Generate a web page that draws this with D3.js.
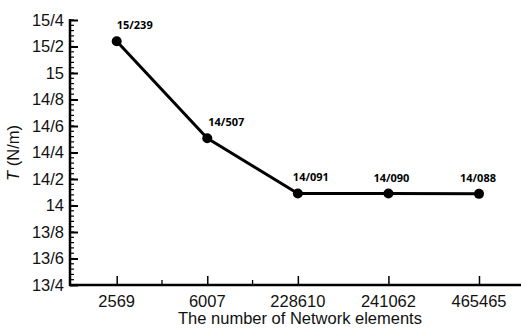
<!DOCTYPE html>
<html><head><meta charset="utf-8">
<script src="https://cdn.jsdelivr.net/npm/d3@7"></script>
<style>body{margin:0;background:#fff}</style>
</head><body>
<svg id="c" width="521" height="333"></svg>
<script>
const categories = ["2569", "6007", "228610", "241062", "465465"];
const values = [15.239, 14.507, 14.091, 14.090, 14.088];
const valueLabels = ["15/239", "14/507", "14/091", "14/090", "14/088"];
const yTicks = [13.4, 13.6, 13.8, 14, 14.2, 14.4, 14.6, 14.8, 15, 15.2, 15.4];
const yTickLabels = ["13/4", "13/6", "13/8", "14", "14/2", "14/4", "14/6", "14/8", "15", "15/2", "15/4"];
const xMinorBetween = [[0, 1], [1, 2]];
const labelDx = [0, 1, -5, -15, -19];

const svg = d3.select("#c");
const axisLeftX = 70, axisBottomY = 285, axisRightX = 521;
const x = d3.scalePoint().domain(categories).range([116.7, 479]);
const y = d3.scaleLinear().domain([13.4, 15.4]).range([285, 20]);

const g = svg.append("g");
// minor y ticks
const minor = d3.range(13.4, 15.4001, 0.04).map(v => +v.toFixed(2));
g.selectAll("line.ymin").data(minor).join("line")
  .attr("x1", axisLeftX).attr("x2", axisLeftX + 4)
  .attr("y1", d => y(d)).attr("y2", d => y(d))
  .attr("stroke", "#000").attr("stroke-width", 1.2);
// major y ticks via axis
const yAxis = d3.axisRight(y).tickValues(yTicks).tickSize(8).tickFormat("");
const ya = g.append("g").attr("transform", `translate(${axisLeftX},0)`).call(yAxis);
ya.select(".domain").remove();
ya.selectAll(".tick line").attr("stroke", "#000").attr("stroke-width", 2);
g.selectAll("text.yl").data(yTicks).join("text")
  .attr("x", axisLeftX - 6).attr("y", d => y(d)).attr("dy", "0.36em")
  .attr("text-anchor", "end").attr("font-family", "Liberation Sans, Arial, sans-serif")
  .attr("font-size", 16.5).attr("fill", "#111").text((d, i) => yTickLabels[i]);

// x axis
const xAxis = d3.axisTop(x).tickSize(9).tickFormat("");
const xa = g.append("g").attr("transform", `translate(0,${axisBottomY})`).call(xAxis);
xa.select(".domain").remove();
xa.selectAll(".tick line").attr("stroke", "#000").attr("stroke-width", 1.5);
g.selectAll("line.xmin").data(xMinorBetween).join("line")
  .attr("x1", d => (x(categories[d[0]]) + x(categories[d[1]])) / 2)
  .attr("x2", d => (x(categories[d[0]]) + x(categories[d[1]])) / 2)
  .attr("y1", axisBottomY).attr("y2", axisBottomY - 5)
  .attr("stroke", "#000").attr("stroke-width", 1.3);
g.selectAll("text.xl").data(categories).join("text")
  .attr("x", d => x(d)).attr("y", 306.5).attr("text-anchor", "middle")
  .attr("font-family", "Liberation Sans, Arial, sans-serif").attr("font-size", 16.5)
  .attr("fill", "#111").text(d => d);

// axis lines
g.append("line").attr("x1", axisLeftX).attr("x2", axisLeftX).attr("y1", 19).attr("y2", axisBottomY + 1)
  .attr("stroke", "#000").attr("stroke-width", 2.5);
g.append("line").attr("x1", axisLeftX - 1).attr("x2", axisRightX).attr("y1", axisBottomY).attr("y2", axisBottomY)
  .attr("stroke", "#000").attr("stroke-width", 2.5);

// titles
g.append("text").attr("x", 300).attr("y", 324).attr("text-anchor", "middle")
  .attr("font-family", "Liberation Sans, Arial, sans-serif").attr("font-size", 16.5).attr("fill", "#111")
  .text("The number of Network elements");
const yt = g.append("text").attr("transform", "translate(19,153) rotate(-90)").attr("text-anchor", "middle")
  .attr("font-family", "Liberation Sans, Arial, sans-serif").attr("font-size", 16.5).attr("fill", "#111");
yt.append("tspan").attr("font-style", "italic").text("T");
yt.append("tspan").text(" (N/m)");

// line + markers
const data = categories.map((c, i) => ({c, v: values[i], l: valueLabels[i], dx: labelDx[i]}));
g.append("path").datum(data)
  .attr("d", d3.line().x(d => x(d.c)).y(d => y(d.v)))
  .attr("fill", "none").attr("stroke", "#000").attr("stroke-width", 3).attr("stroke-linejoin", "round");
g.selectAll("circle.pt").data(data).join("circle")
  .attr("cx", d => x(d.c)).attr("cy", d => y(d.v)).attr("r", 5).attr("fill", "#000");
g.selectAll("text.vl").data(data).join("text")
  .attr("x", d => x(d.c) + d.dx).attr("y", d => y(d.v) - 12)
  .attr("font-family", "Open Sans, sans-serif").attr("font-weight", "bold").attr("font-size", 11)
  .attr("fill", "#000").text(d => d.l);
</script>
</body></html>
